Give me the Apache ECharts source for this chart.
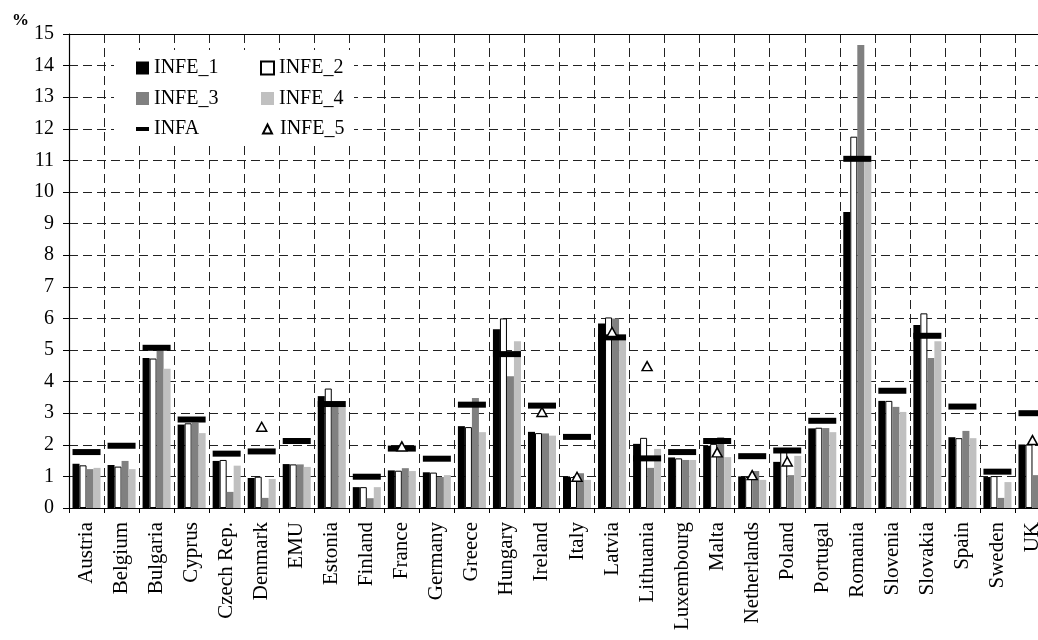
<!DOCTYPE html>
<html>
<head>
<meta charset="utf-8">
<script src="https://cdn.jsdelivr.net/npm/echarts@6.0.0/dist/echarts.min.js"></script>
<style>
    html, body { margin: 0; padding: 0; background: #fff; }
    #chart { width: 1038px; height: 640px; }
</style>
</head>
<body>
<div id="chart"></div>
<script>
var countries = ['Austria', 'Belgium', 'Bulgaria', 'Cyprus', 'Czech Rep.', 'Denmark', 'EMU', 'Estonia', 'Finland', 'France',
    'Germany', 'Greece', 'Hungary', 'Ireland', 'Italy', 'Latvia', 'Lithuania', 'Luxembourg', 'Malta', 'Netherlands',
    'Poland', 'Portugal', 'Romania', 'Slovenia', 'Slovakia', 'Spain', 'Sweden', 'UK'];

var infe1 = [1.40, 1.36, 4.75, 2.64, 1.49, 0.95, 1.39, 3.54, 0.66, 1.19, 1.13, 2.59, 5.66, 2.41, 1.00, 5.84, 2.03, 1.60, 1.97, 1.00, 1.46, 2.52, 9.37, 3.39, 5.79, 2.24, 0.98, 2.01];
var infe2 = [1.35, 1.31, 4.73, 2.68, 1.52, 0.99, 1.38, 3.78, 0.66, 1.18, 1.12, 2.56, 6.00, 2.37, 0.98, 6.03, 2.22, 1.57, 2.03, 0.98, 1.78, 2.54, 11.75, 3.39, 6.16, 2.21, 1.01, 2.01];
var infe3 = [1.23, 1.49, 5.00, 2.70, 0.51, 0.32, 1.38, 3.30, 0.31, 1.26, 0.98, 3.48, 4.17, 2.36, 1.10, 6.00, 1.27, 1.52, 2.24, 1.17, 1.04, 2.53, 14.65, 3.20, 4.75, 2.44, 0.32, 1.04];
var infe4 = [1.27, 1.23, 4.41, 2.37, 1.34, 0.92, 1.30, 3.25, 0.66, 1.17, 1.04, 2.40, 5.28, 2.29, 0.89, 5.40, 1.87, 1.52, 1.61, 0.89, 1.65, 2.40, 11.00, 3.04, 5.28, 2.21, 0.82, 1.10];
var infa  = [1.77, 1.97, 5.07, 2.80, 1.72, 1.79, 2.12, 3.29, 0.99, 1.88, 1.56, 3.27, 4.87, 3.24, 2.25, 5.40, 1.57, 1.77, 2.12, 1.64, 1.82, 2.76, 11.05, 3.71, 5.45, 3.21, 1.15, 3.00];
var infe5 = [null, null, null, null, null, 2.57, null, null, null, 1.95, null, null, null, 3.04, 0.99, 5.57, 4.49, null, 1.76, 1.04, 1.47, null, null, null, null, null, null, 2.15];

var yTicks = [0, 15, 1];

var fontFamily = '"Liberation Serif", "Times New Roman", serif';

var myChart = echarts.init(document.getElementById('chart'), null, { renderer: 'canvas' });

//legend common style
var legendText = { fontSize: 20, fontFamily: fontFamily, color: '#000', lineHeight: 20 };

var option = {
    animation: false,
    backgroundColor: '#fff',
    title: {
        text: '%',
        left: 12,
        top: 12,
        padding: 0,
        textStyle: { fontSize: 17, fontWeight: 'bold', fontFamily: fontFamily, color: '#000' }
    },
    graphic: [{
        type: 'rect',
        z: 3,
        shape: { x: 114, y: 50, width: 240, height: 92 },
        style: { fill: '#fff' }
    }],
    legend: [{
        orient: 'vertical',
        left: 136, top: 58, padding: 0,
        itemWidth: 13, itemHeight: 13, itemGap: 10.5,
        icon: 'rect',
        textStyle: legendText,
        data: ['INFE_1', 'INFE_3', { name: 'INFA', icon: 'path://M0,0H13V4H0Z' }]
    }, {
        orient: 'vertical',
        left: 260, top: 58, padding: 0,
        itemWidth: 13, itemHeight: 13, itemGap: 10.5,
        icon: 'rect',
        textStyle: legendText,
        data: ['INFE_2', 'INFE_4']
    }, {
        orient: 'vertical',
        left: 262, top: 119, padding: 0,
        itemWidth: 9, itemHeight: 9,
        icon: 'triangle',
        textStyle: { fontSize: 20, fontFamily: fontFamily, color: '#000', lineHeight: 20, padding: [0, 0, 0, 3] },
        data: ['INFE_5']
    }],
    grid: {
        left: 69,
        top: 34,
        width: 981,
        height: 474,
        containLabel: false,
        outerBoundsMode: 'none'
    },
    xAxis: [{
        type: 'category',
        data: countries,
        boundaryGap: true,
        axisLine: { lineStyle: { color: '#000', width: 1.2 } },
        axisTick: { show: true, length: 5, lineStyle: { color: '#000' } },
        axisLabel: { interval: 0, rotate: 90, margin: 14, fontSize: 21, fontFamily: fontFamily, color: '#000' },
        splitLine: { show: true, lineStyle: { color: '#222', type: [9, 5], width: 1 } }
    }, {
        type: 'category',
        data: countries,
        position: 'top',
        axisLine: { show: true, onZero: false, lineStyle: { color: '#000', width: 1.2 } },
        axisTick: { show: false },
        axisLabel: { show: false },
        splitLine: { show: false }
    }],
    yAxis: {
        type: 'value',
        min: yTicks[0],
        max: yTicks[1],
        interval: yTicks[2],
        axisLine: { show: true, lineStyle: { color: '#000', width: 1.2 } },
        axisTick: { show: true, length: 6, lineStyle: { color: '#000' } },
        axisLabel: { margin: 15, fontSize: 20, fontFamily: fontFamily, color: '#000' },
        splitLine: { show: true, lineStyle: { color: '#222', type: [9, 5], width: 1 } }
    },
    series: [{
        name: 'INFE_1',
        type: 'bar',
        barGap: '0%',
        barCategoryGap: '20%',
        itemStyle: { color: '#000' },
        data: infe1
    }, {
        name: 'INFE_2',
        type: 'bar',
        itemStyle: { color: '#fff', borderColor: '#000', borderWidth: 1 },
        data: infe2
    }, {
        name: 'INFE_3',
        type: 'bar',
        itemStyle: { color: '#808080' },
        data: infe3
    }, {
        name: 'INFE_4',
        type: 'bar',
        itemStyle: { color: '#c0c0c0' },
        data: infe4
    }, {
        name: 'INFA',
        type: 'scatter',
        symbol: 'rect',
        symbolSize: [28, 6],
        z: 4,
        itemStyle: { color: '#000', opacity: 1 },
        data: infa
    }, {
        name: 'INFE_5',
        type: 'scatter',
        symbol: 'triangle',
        symbolSize: [10, 9],
        z: 5,
        itemStyle: { color: '#fff', borderColor: '#000', borderWidth: 1.5, opacity: 1 },
        data: infe5
    }]
};

myChart.setOption(option);
</script>
</body>
</html>
